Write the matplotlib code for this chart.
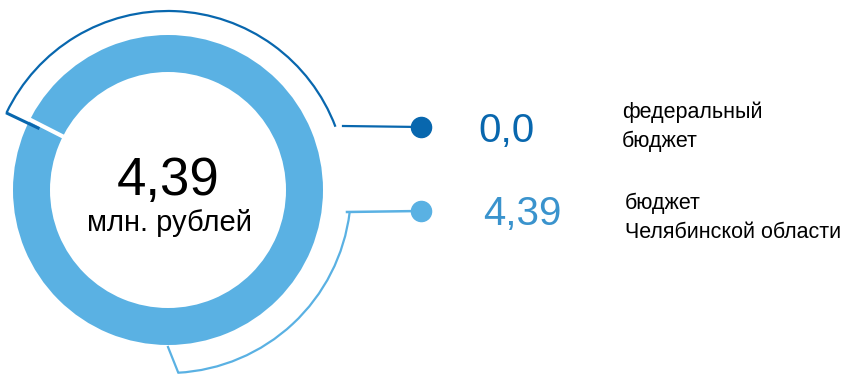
#!/usr/bin/env python3
"""Donut infographic: budget sources, mln rubles."""
import numpy as np
import matplotlib.pyplot as plt
from matplotlib.patches import Arc

plt.rcParams['font.family'] = ['Liberation Sans', 'DejaVu Sans']

# data
sources = ['федеральный\nбюджет', 'бюджет\nЧелябинской области']
values = [0.0, 4.39]
value_labels = ['0,0', '4,39']
total_label = '4,39'
unit_label = 'млн. рублей'

DARK = '#0867AE'
LIGHT = '#5AB1E3'
LIGHT_TXT = '#3A93CD'

W, H = 850, 375
fig = plt.figure(figsize=(8.5, 3.75), dpi=100)
ax = fig.add_axes([0, 0, 1, 1])

def py(y):
    # pixel row -> data y (y axis points up)
    return H - y

cx, cy = 168, py(190)
R, ring_w = 155, 37
start = 153

ax.pie(values, colors=[DARK, LIGHT], startangle=start, counterclock=False,
       radius=R, center=(cx, cy),
       wedgeprops=dict(width=ring_w, edgecolor='none'))

ax.set_xlim(0, W)
ax.set_ylim(0, H)
ax.set_aspect('equal')
ax.axis('off')

def polar(r, ang):
    a = np.deg2rad(ang)
    return cx + r * np.cos(a), cy + r * np.sin(a)

# white separator where the (empty) federal slice sits
s1, s2 = polar(R + 1, start), polar(R - ring_w - 1, start)
ax.plot([s1[0], s2[0]], [s1[1], s2[1]], color='white', lw=3, solid_capstyle='butt')

# dark bracket (federal)
ax.add_patch(Arc((cx, cy), 358, 358, theta1=20.7, theta2=154.5, color=DARK, lw=1.6))
p1, p2 = polar(178, 154.5), polar(144, 154.5)
ax.plot([p1[0], p2[0]], [p1[1], p2[1]], color=DARK, lw=2.2)
ax.plot([343, 420], [py(126), py(127)], color=DARK, lw=1.6)
ax.plot([421], [py(127)], 'o', color=DARK, ms=14.5)

# light bracket (regional)
ax.add_patch(Arc((cx, cy), 366, 366, theta1=-87, theta2=-7, color=LIGHT, lw=1.6))
ax.plot([178, 168], [py(372), py(347)], color=LIGHT, lw=1.6)
ax.plot([347, 420], [py(212), py(211)], color=LIGHT, lw=1.8)
ax.plot([421], [py(211)], 'o', color=LIGHT, ms=14.5)

# centre text
ax.text(cx, py(195), total_label, fontsize=38, ha='center', va='baseline', color='black')
ax.text(cx + 2, py(231), unit_label, fontsize=21, ha='center', va='baseline', color='black')

# right side values and labels
ax.text(478, py(142), value_labels[0], fontsize=29, color=DARK,
        ha='left', va='baseline')
ax.text(483, py(225), value_labels[1], fontsize=29, color=LIGHT_TXT,
        ha='left', va='baseline')

label_pos = [(622, 118), (625, 209)]
for text, (x, y0) in zip(sources, label_pos):
    for i, line in enumerate(text.split('\n')):
        ax.text(x, py(y0 + 28.5 * i), line, fontsize=15.5, color='black',
                ha='left', va='baseline')

fig.savefig('out.png', dpi=100)
